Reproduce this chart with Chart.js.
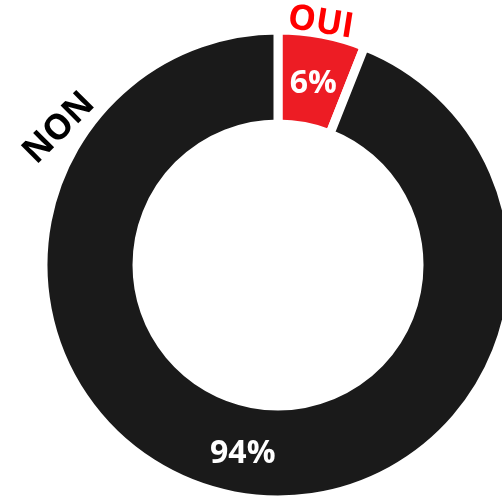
<!DOCTYPE html>
<html>
<head>
  <meta charset="UTF-8">
  <title>OUI / NON</title>
  <style>
    html, body { margin: 0; padding: 0; background: #fff; }
    .chart-container { width: 502px; height: 497px; }
  </style>
  <script src="https://cdn.jsdelivr.net/npm/chart.js"></script>
</head>
<body>
  <div class="chart-container">
    <canvas id="pieChart"></canvas>
  </div>
  <script>
    // Données
    const categories = ['OUI', 'NON'];
    const values = [6, 94];
    const sliceColors = ['#ED1C24', '#1A1A1A'];
    const nameColors = ['#FF0000', '#000000'];

    // Position des noms autour de l'anneau (degrés depuis le haut, rotation du texte)
    const namePlacement = [
      { angle: 10, extra: 11, rot: 9 },
      { angle: 302, extra: 23, rot: -45 }
    ];

    const labelsPlugin = {
      id: 'labelsPlugin',
      afterDatasetsDraw(chart) {
        const ctx = chart.ctx;
        const meta = chart.getDatasetMeta(0);
        const total = values.reduce((a, b) => a + b, 0);
        meta.data.forEach((arc, i) => {
          const p = arc.getProps(['x', 'y', 'startAngle', 'endAngle', 'innerRadius', 'outerRadius']);
          const mid = (p.startAngle + p.endAngle) / 2;
          const rMid = (p.innerRadius + p.outerRadius) / 2;

          // pourcentage dans la tranche (décalage pour centrer les chiffres)
          ctx.save();
          ctx.fillStyle = '#FFFFFF';
          ctx.font = 'bold 32px "Open Sans", sans-serif';
          ctx.textAlign = 'center';
          ctx.textBaseline = 'middle';
          const pct = Math.round(values[i] / total * 100) + '%';
          ctx.fillText(pct, p.x + Math.cos(mid) * rMid, p.y + Math.sin(mid) * rMid + 4);
          ctx.restore();

          // nom à l'extérieur
          const pl = namePlacement[i];
          const a = (pl.angle - 90) * Math.PI / 180;
          const r = p.outerRadius + pl.extra;
          ctx.save();
          ctx.translate(p.x + Math.cos(a) * r, p.y + Math.sin(a) * r);
          ctx.rotate(pl.rot * Math.PI / 180);
          ctx.fillStyle = nameColors[i];
          ctx.font = 'bold 35px "Open Sans", sans-serif';
          ctx.textAlign = 'center';
          ctx.textBaseline = 'middle';
          ctx.fillText(categories[i], 0, 0);
          ctx.restore();
        });
      }
    };

    const chart = new Chart(document.getElementById('pieChart').getContext('2d'), {
      type: 'doughnut',
      data: {
        labels: categories,
        datasets: [{
          data: values,
          backgroundColor: sliceColors,
          borderColor: '#FFFFFF',
          borderWidth: 9,
          clip: false
        }]
      },
      options: {
        responsive: true,
        maintainAspectRatio: false,
        animation: false,
        radius: 235,
        cutout: '60%',
        layout: { padding: { left: 54, top: 33, right: 0, bottom: 0 } },
        plugins: {
          legend: { display: false },
          tooltip: { enabled: false }
        }
      },
      plugins: [labelsPlugin]
    });
  </script>
</body>
</html>
